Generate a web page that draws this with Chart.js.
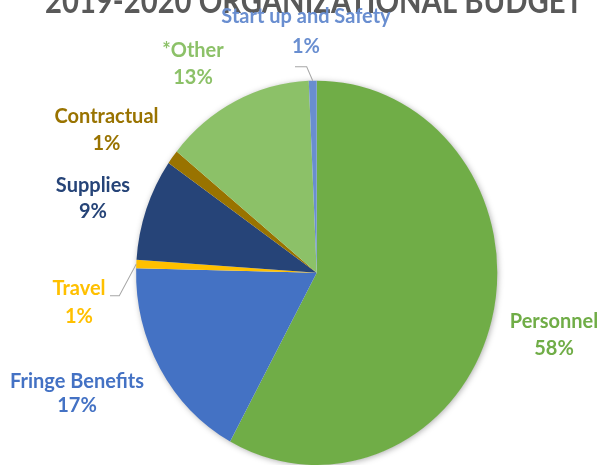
<!DOCTYPE html>
<html>
<head>
<meta charset="utf-8">
<script src="https://cdn.jsdelivr.net/npm/chart.js@4"></script>
<style>
  html, body { margin: 0; padding: 0; background: #ffffff; overflow: hidden; }
  canvas { display: block; }
</style>
</head>
<body>
<canvas id="c" width="601" height="465" style="width:601px;height:465px"></canvas>
<script>
// ---- data ----
const title = "2019-2020 ORGANIZATIONAL BUDGET";
const categories = ["Personnel", "Fringe Benefits", "Travel", "Supplies", "Contractual", "*Other", "Start up and Safety"];
const values = [57.9, 17.4, 0.7, 8.6, 1.2, 13.4, 0.7];
const colors = ["#70AD47", "#4472C4", "#FFC000", "#264478", "#997300", "#8CC168", "#698ED0"];

// ---- layout (drawing coordinates before the vertical stretch) ----
const STRETCH = 465 / 437;
// [centerX, baseline1, baseline2]
const labelPos = [
  [554, 308.6, 333.6],
  [77, 365.0, 387.0],
  [79, 277.3, 303.9],
  [93, 180.2, 205.2],
  [106.5, 115.9, 141.0],
  [193, 53.3, 78.9],
  [306, 21.9, 49.5]
];
// leader lines: [startX, startY, elbowX] or null
const leaders = [null, null, [110, 277.9, 119.3], null, null, null, [295, 62.7, 306.7]];

const FONT = "Lato, 'Open Sans', sans-serif";
const total = values.reduce((a, b) => a + b, 0);

const stretchPlugin = {
  id: 'stretch',
  beforeDraw(chart) {
    chart.ctx.save();
    chart.ctx.scale(1, STRETCH);
  },
  afterDraw(chart) {
    chart.ctx.restore();
  }
};

const shadowPlugin = {
  id: 'pieShadow',
  beforeDatasetsDraw(chart) {
    const arc = chart.getDatasetMeta(0).data[0];
    if (!arc) return;
    const ctx = chart.ctx;
    ctx.save();
    ctx.shadowColor = 'rgba(0,0,0,0.35)';
    ctx.shadowBlur = 6;
    ctx.shadowOffsetX = 1;
    ctx.shadowOffsetY = 1;
    ctx.fillStyle = '#ffffff';
    ctx.beginPath();
    ctx.arc(arc.x, arc.y, arc.outerRadius - 0.5, 0, Math.PI * 2);
    ctx.fill();
    ctx.restore();
  }
};

const labelPlugin = {
  id: 'labels',
  afterDatasetsDraw(chart) {
    const ctx = chart.ctx;
    const meta = chart.getDatasetMeta(0);
    ctx.save();
    // title
    ctx.fillStyle = '#595959';
    ctx.font = "bold 33px " + FONT;
    ctx.textAlign = 'center';
    ctx.textBaseline = 'alphabetic';
    ctx.fillText(title, 314, 11.9, 538);
    // leader lines
    ctx.strokeStyle = '#A6A6A6';
    ctx.lineWidth = 1;
    meta.data.forEach((arc, i) => {
      const L = leaders[i];
      if (!L) return;
      const mid = (arc.startAngle + arc.endAngle) / 2;
      const ex = arc.x + Math.cos(mid) * arc.outerRadius;
      const ey = arc.y + Math.sin(mid) * arc.outerRadius;
      ctx.beginPath();
      ctx.moveTo(L[0], L[1]);
      ctx.lineTo(L[2], L[1]);
      ctx.lineTo(ex, ey);
      ctx.stroke();
    });
    // labels
    ctx.font = "bold 20px " + FONT;
    categories.forEach((name, i) => {
      const p = labelPos[i];
      const pct = Math.round(values[i] / total * 100) + '%';
      ctx.fillStyle = colors[i];
      ctx.fillText(name, p[0], p[1]);
      ctx.fillText(pct, p[0], p[2]);
    });
    ctx.restore();
  }
};

new Chart(document.getElementById('c'), {
  type: 'pie',
  data: {
    labels: categories,
    datasets: [{
      data: values,
      backgroundColor: colors,
      borderWidth: 0,
      borderColor: colors
    }]
  },
  options: {
    responsive: false,
    animation: false,
    devicePixelRatio: 1,
    layout: { padding: { left: 135.7, right: 103.3, top: 75.8, bottom: 28 } },
    plugins: { legend: { display: false }, tooltip: { enabled: false }, title: { display: false } }
  },
  plugins: [stretchPlugin, shadowPlugin, labelPlugin]
});
</script>
</body>
</html>
